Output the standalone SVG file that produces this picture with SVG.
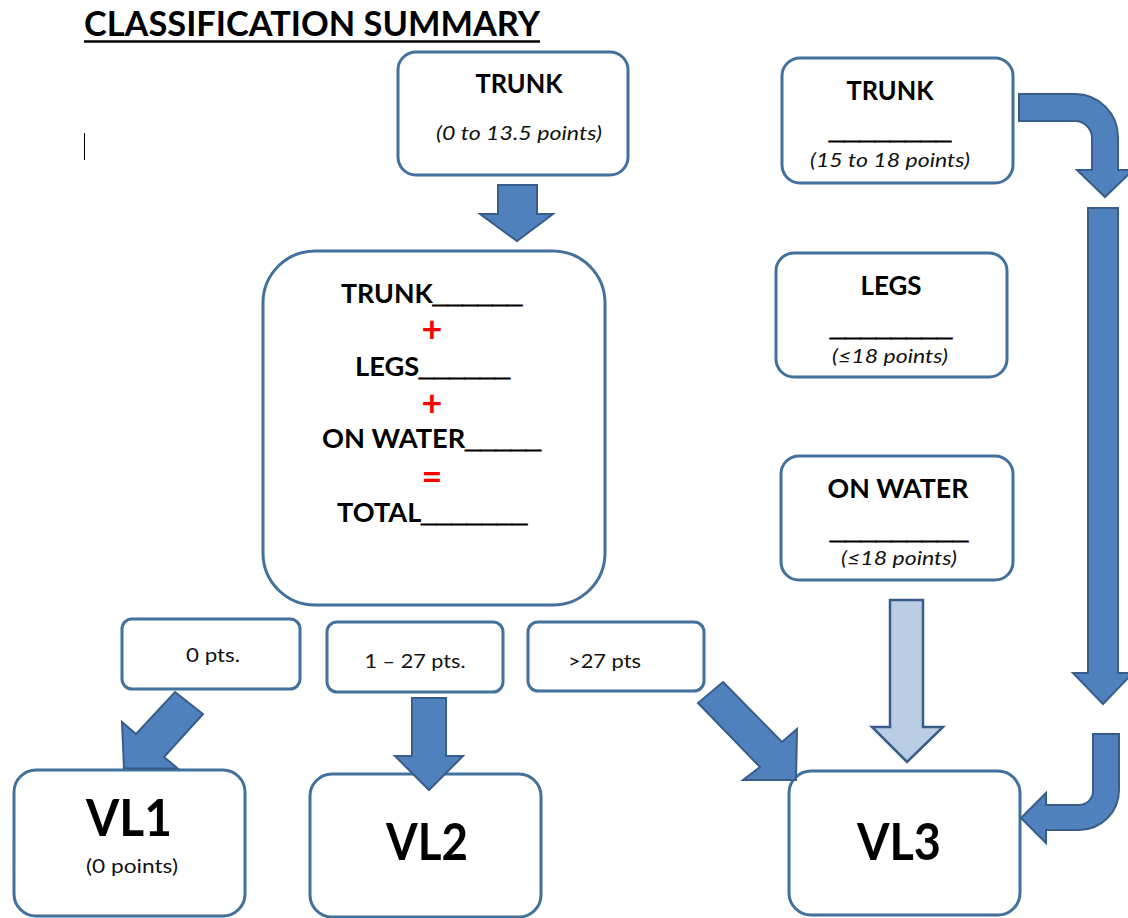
<svg xmlns="http://www.w3.org/2000/svg" width="1128" height="918" viewBox="0 0 1128 918">
<style>
.box{fill:#fff;stroke:#41719c;stroke-width:3}
.arr{fill:#4f81bd;stroke:#385d8a;stroke-width:2;stroke-linejoin:miter}
.arrl{fill:#b9cde5;stroke:#385d8a;stroke-width:2.5}
.b{font-family:Lato,"Open Sans","Liberation Sans",sans-serif;font-weight:bold;fill:#000}
.i{font-family:Lato,"Open Sans","Liberation Sans",sans-serif;font-style:italic;fill:#111}
.r{font-family:Lato,"Open Sans","Liberation Sans",sans-serif;fill:#111}
.red{font-family:Lato,"Open Sans","Liberation Sans",sans-serif;font-weight:bold;fill:#ff0000}
.u{font-family:"Liberation Sans",Arial,sans-serif;font-weight:bold;stroke:#000;stroke-width:1}
.m{text-anchor:middle}
</style>
<rect width="1128" height="918" fill="#fff"/>
<g id="title">
<text class="b" x="84" y="36" font-size="35" textLength="456" lengthAdjust="spacingAndGlyphs">CLASSIFICATION SUMMARY</text>
<line x1="84" y1="41.5" x2="540" y2="41.5" stroke="#000" stroke-width="2.5"/>
</g>
<line id="cursor" x1="84.5" y1="133" x2="84.5" y2="160" stroke="#000" stroke-width="1"/>
<g id="trunk-top">
<rect class="box" x="398" y="52" width="230" height="123" rx="18"/>
<text class="b m" x="519" y="93" font-size="26" textLength="87" lengthAdjust="spacingAndGlyphs">TRUNK</text>
<text class="i m" x="519" y="140" font-size="19" textLength="166" lengthAdjust="spacingAndGlyphs">(0 to 13.5 points)</text>
</g>
<g id="total">
<rect class="box" x="263" y="251" width="342" height="354" rx="52"/>
<text class="b" x="341" y="303" font-size="26" textLength="181" lengthAdjust="spacingAndGlyphs">TRUNK<tspan class="u">______</tspan></text>
<text class="red m" x="432" y="342" font-size="36">+</text>
<text class="b" x="355" y="376" font-size="26" textLength="155" lengthAdjust="spacingAndGlyphs">LEGS<tspan class="u">______</tspan></text>
<text class="red m" x="432" y="416" font-size="36">+</text>
<text class="b" x="322" y="448" font-size="26" textLength="219" lengthAdjust="spacingAndGlyphs">ON WATER<tspan class="u">_____</tspan></text>
<text class="red m" x="432" y="489" font-size="36">=</text>
<text class="b" x="337" y="522" font-size="26" textLength="190" lengthAdjust="spacingAndGlyphs">TOTAL<tspan class="u">_______</tspan></text>
</g>
<g id="trunk-right">
<rect class="box" x="782" y="58" width="231" height="125" rx="18"/>
<text class="b m" x="890" y="100" font-size="26" textLength="87" lengthAdjust="spacingAndGlyphs">TRUNK</text>
<text class="u" x="829" y="139" font-size="26" textLength="122" lengthAdjust="spacingAndGlyphs">________</text>
<text class="i m" x="890" y="167" font-size="19" textLength="160" lengthAdjust="spacingAndGlyphs">(15 to 18 points)</text>
</g>
<g id="legs">
<rect class="box" x="776" y="253" width="231" height="124" rx="18"/>
<text class="b m" x="891" y="295" font-size="26" textLength="61" lengthAdjust="spacingAndGlyphs">LEGS</text>
<text class="u" x="830" y="336" font-size="26" textLength="122" lengthAdjust="spacingAndGlyphs">________</text>
<text class="i m" x="890" y="363" font-size="19" textLength="116" lengthAdjust="spacingAndGlyphs">(≤18 points)</text>
</g>
<g id="on-water">
<rect class="box" x="781" y="456" width="232" height="124" rx="18"/>
<text class="b m" x="898" y="498" font-size="26" textLength="141" lengthAdjust="spacingAndGlyphs">ON WATER</text>
<text class="u" x="830" y="539" font-size="26" textLength="138" lengthAdjust="spacingAndGlyphs">_________</text>
<text class="i m" x="899" y="565" font-size="19" textLength="116" lengthAdjust="spacingAndGlyphs">(≤18 points)</text>
</g>
<g id="pts0">
<rect class="box" x="122" y="619" width="178" height="70" rx="10"/>
<text class="r m" x="213" y="662" font-size="20" textLength="54" lengthAdjust="spacingAndGlyphs">0 pts.</text>
</g>
<g id="pts1-27">
<rect class="box" x="327" y="622" width="176" height="70" rx="10"/>
<text class="r m" x="415" y="668" font-size="20" textLength="101" lengthAdjust="spacingAndGlyphs">1 – 27 pts.</text>
</g>
<g id="pts27">
<rect class="box" x="528" y="622" width="176" height="69" rx="10"/>
<text class="r" x="568" y="668" font-size="20" textLength="73" lengthAdjust="spacingAndGlyphs">&gt;27 pts</text>
</g>
<g id="vl1">
<rect class="box" x="14" y="770" width="231" height="146" rx="22"/>
<text class="b m" x="129" y="836" font-size="52" textLength="86" lengthAdjust="spacingAndGlyphs">VL1</text>
<text class="r m" x="132" y="873" font-size="20" textLength="92" lengthAdjust="spacingAndGlyphs">(0 points)</text>
</g>
<g id="vl2">
<rect class="box" x="310" y="774" width="231" height="143" rx="22"/>
<text class="b m" x="427" y="860" font-size="52" textLength="82" lengthAdjust="spacingAndGlyphs">VL2</text>
</g>
<g id="vl3">
<rect class="box" x="789" y="771" width="231" height="144" rx="22"/>
<text class="b m" x="899" y="860" font-size="52" textLength="84" lengthAdjust="spacingAndGlyphs">VL3</text>
</g>
<g id="connectors">
<polygon class="arr" points="498,185 537,185 537,214 553,214 517,241 480,214 498,214"/>
<polygon class="arr" points="175,692 203,714 164,757 177.7,768.5 124,768.5 122,722 136,734"/>
<polygon class="arr" points="412,698 446,698 446,756 463,756 429,790 395,756 412,756"/>
<polygon class="arr" points="723,682 782,742 797,729 796,780 743,780 760,767 698,703"/>
<polygon class="arrl" points="890,600 923,600 923,727 943,727 907,762 872,727 890,727"/>
<path class="arr" d="M1019,94 L1075,94 A43,43 0 0 1 1118,137 L1118,170 L1133,170 L1105,197 L1077,170 L1092,170 L1092,138 A17,17 0 0 0 1075,121 L1019,121 Z"/>
<polygon class="arr" points="1088,208 1118,208 1118,673 1133,673 1103,704 1073,673 1088,673"/>
<path class="arr" d="M1093,734 L1119,734 L1119,790 A40,40 0 0 1 1079,830 L1046,830 L1046,843 L1021,818 L1046,793 L1046,805 L1079,805 A14,14 0 0 0 1093,791 Z"/>
</g>
</svg>
